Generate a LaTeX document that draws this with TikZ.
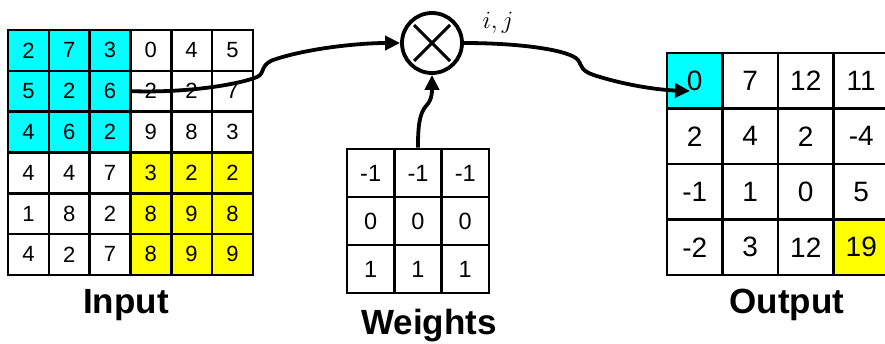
\documentclass[tikz,border=0pt]{standalone}
\usepackage{fontspec}
\setmainfont{Liberation Sans}
\usetikzlibrary{arrows.meta,calc}
\definecolor{aquafill}{RGB}{0,255,255}
\definecolor{yelfill}{RGB}{255,255,0}
\begin{document}
\begin{tikzpicture}[x=1pt,y=-1pt,
  cell/.style={draw,line width=2.6pt,rectangle,inner sep=0pt,anchor=center},
  incell/.style={cell,minimum width=40.8pt,minimum height=40.8pt,font=\fontsize{22}{22}\selectfont},
  outcell/.style={cell,minimum width=55.5pt,minimum height=55.5pt,font=\fontsize{28}{28}\selectfont},
  wcell/.style={cell,minimum width=47.3pt,minimum height=48pt,font=\fontsize{23.5}{23.5}\selectfont},
  lbl/.style={font=\fontsize{35}{35}\bfseries\selectfont,anchor=base,inner sep=0pt},
  wire/.style={line width=3.8pt,-{Triangle[length=15pt,width=14pt]}},
]
\useasboundingbox (0,0) rectangle (885,343);
\clip (0,0) rectangle (885,343);
% input grid
\foreach \row [count=\r] in {{2,7,3,0,4,5},{5,2,6,2,2,7},{4,6,2,9,8,3},{4,4,7,3,2,2},{1,8,2,8,9,8},{4,2,7,8,9,9}}{
  \foreach \v [count=\c] in \row {
    \ifnum\r<4 \ifnum\c<4 \def\fc{aquafill}\else\def\fc{white}\fi
    \else \ifnum\c>3 \def\fc{yelfill}\else\def\fc{white}\fi\fi
    \node[incell,fill=\fc] (in-\r-\c) at ({8+40.8*(\c-0.5)},{30+40.8*(\r-0.5)}) {\v};
  }
}
% output grid
\foreach \row [count=\r] in {{0,7,12,11},{2,4,2,-4},{-1,1,0,5},{-2,3,12,19}}{
  \foreach \v [count=\c] in \row {
    \def\fc{white}
    \ifnum\r=1 \ifnum\c=1 \def\fc{aquafill}\fi\fi
    \ifnum\r=4 \ifnum\c=4 \def\fc{yelfill}\fi\fi
    \node[outcell,fill=\fc] (out-\r-\c) at ({667+55.5*(\c-0.5)},{53+55.5*(\r-0.5)}) {\v};
  }
}
% weights grid
\foreach \row [count=\r] in {{-1,-1,-1},{0,0,0},{1,1,1}}{
  \foreach \v [count=\c] in \row {
    \node[wcell,fill=white] (wt-\r-\c) at ({347+47.3*(\c-0.5)},{149+48*(\r-0.5)}) {\v};
  }
}
% multiplier
\node[draw,circle,line width=3.8pt,minimum size=60pt,inner sep=0pt] (mult) at (432,43) {};
\draw[line width=3pt] ([shift={(-18pt,-18pt)}]mult.center) -- ([shift={(18pt,18pt)}]mult.center);
\draw[line width=3pt] ([shift={(-18pt,18pt)}]mult.center) -- ([shift={(18pt,-18pt)}]mult.center);
\node[font=\fontsize{28}{28}\selectfont,anchor=base,inner sep=0pt] (ij) at (498,28) {$i,j$};
% wires
\coordinate (outtip) at (690,91);
\draw[wire] (in-2-3.east) .. controls (190,93) and (240,84) .. (257,77)
  .. controls (266,73) and (259,64) .. (276,59)
  .. controls (310,48) and (360,43) .. (mult.west);
\draw[wire] (mult.east) .. controls (520,43) and (570,50) .. (578,60)
  .. controls (583,67) and (579,71) .. (600,77)
  .. controls (630,86) and (660,90) .. (outtip);
\draw[wire] (wt-1-2.north) .. controls (418,128) and (419,114) .. (426,106)
  .. controls (432,100) and (432,92) .. (mult.south);
% labels
\node[lbl] (inlbl) at (126,313) {Input};
\node[lbl] (wlbl) at (429,334) {Weights};
\node[lbl] (outlbl) at (787,313) {Output};
\end{tikzpicture}
\end{document}
